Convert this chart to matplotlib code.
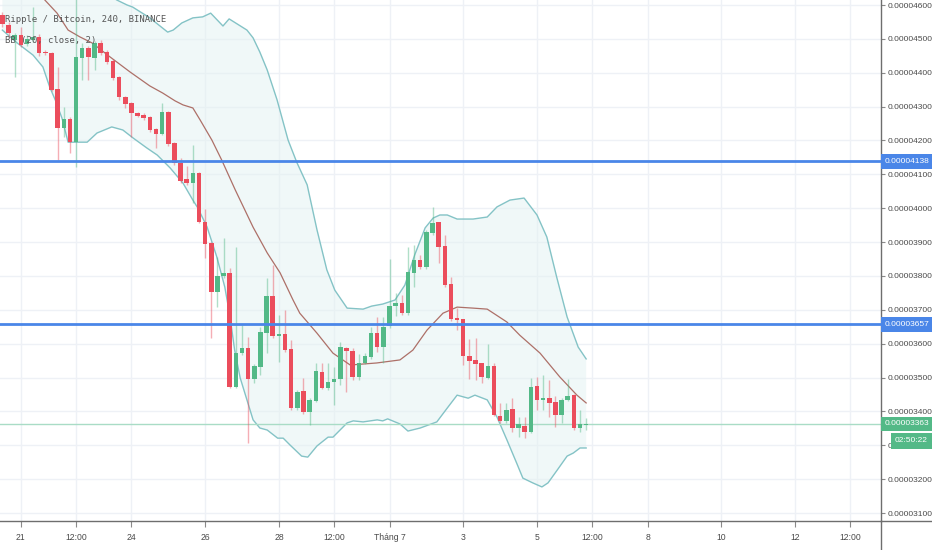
import numpy as np
import matplotlib as mpl
mpl.use('Agg')
import matplotlib.pyplot as plt
import matplotlib.transforms as mtransforms
from matplotlib.lines import Line2D

# XRP/BTC 4h candles (Binance), prices in satoshi (1e-8 BTC)
opens = [4570, 4541, 4497, 4511, 4485, 4497, 4505, 4461, 4458, 4352,
         4237, 4263, 4195, 4443, 4473, 4443, 4488, 4461, 4435, 4387,
         4328, 4310, 4281, 4275, 4269, 4234, 4219, 4284, 4193, 4133,
         4086, 4074, 4104, 3959, 3897, 3752, 3800, 3809, 3472, 3572,
         3587, 3496, 3531, 3631, 3741, 3623, 3629, 3584, 3410, 3460,
         3398, 3431, 3516, 3469, 3487, 3496, 3587, 3578, 3502, 3543,
         3561, 3632, 3590, 3652, 3711, 3720, 3690, 3809, 3847, 3826,
         3927, 3959, 3888, 3776, 3676, 3673, 3564, 3552, 3543, 3499,
         3534, 3386, 3372, 3407, 3351, 3357, 3339, 3475, 3434, 3440,
         3428, 3389, 3434, 3449, 3351, 3360]
highs = [4580, 4550, 4517, 4535, 4510, 4594, 4515, 4468, 4462, 4417,
         4299, 4268, 4620, 4488, 4480, 4495, 4497, 4466, 4440, 4390,
         4330, 4315, 4285, 4280, 4272, 4238, 4311, 4288, 4196, 4148,
         4125, 4186, 4108, 3999, 3900, 3856, 3912, 3823, 3885, 3655,
         3620, 3540, 3649, 3794, 3832, 3686, 3699, 3611, 3462, 3499,
         3440, 3543, 3543, 3543, 3531, 3605, 3590, 3587, 3569, 3573,
         3649, 3679, 3679, 3850, 3750, 3744, 3885, 3891, 3862, 3936,
         4004, 3960, 3921, 3797, 3706, 3673, 3614, 3617, 3543, 3599,
         3543, 3425, 3425, 3439, 3383, 3383, 3499, 3502, 3508, 3493,
         3446, 3440, 3496, 3452, 3404, 3381]
lows = [4535, 4505, 4387, 4475, 4478, 4490, 4450, 4452, 4345, 4142,
        4210, 4163, 4122, 4378, 4378, 4408, 4452, 4425, 4380, 4320,
        4296, 4210, 4268, 4260, 4225, 4178, 4215, 4185, 4128, 4075,
        4068, 4015, 3955, 3853, 3617, 3708, 3795, 3468, 3468, 3568,
        3307, 3484, 3507, 3572, 3618, 3546, 3575, 3405, 3405, 3392,
        3360, 3428, 3465, 3464, 3419, 3478, 3457, 3493, 3493, 3540,
        3555, 3575, 3543, 3645, 3682, 3685, 3685, 3767, 3820, 3820,
        3920, 3838, 3768, 3668, 3640, 3537, 3496, 3493, 3484, 3495,
        3385, 3365, 3367, 3339, 3324, 3321, 3335, 3404, 3404, 3383,
        3354, 3366, 3430, 3345, 3339, 3345]
closes = [4544, 4517, 4511, 4482, 4500, 4506, 4458, 4458, 4349, 4237,
          4263, 4196, 4446, 4473, 4446, 4488, 4458, 4432, 4385, 4328,
          4307, 4281, 4273, 4266, 4231, 4219, 4284, 4190, 4134, 4080,
          4074, 4104, 3959, 3894, 3752, 3800, 3809, 3472, 3572, 3587,
          3496, 3534, 3634, 3741, 3623, 3629, 3581, 3410, 3457, 3398,
          3434, 3519, 3469, 3487, 3496, 3590, 3578, 3502, 3543, 3564,
          3632, 3590, 3649, 3711, 3720, 3690, 3812, 3847, 3826, 3930,
          3956, 3885, 3773, 3673, 3670, 3564, 3549, 3540, 3501, 3534,
          3389, 3372, 3404, 3351, 3363, 3339, 3472, 3434, 3440, 3425,
          3389, 3434, 3446, 3351, 3363, 3363]

# first candle opens 20 Jun 12:00; x axis counts days of June
first_day = 20.5
candle_days = 1 / 6

# BB (20, close, 2) as (candle index, satoshi)
bb_upper_idx = [0, 8, 15, 18.6, 20.3, 21.2, 24.0, 26.9, 27.8, 29.2, 31.0, 32.6, 33.9,
                35.9, 36.9, 39.8, 40.8, 41.9, 43.1, 44.7, 46.5, 47.9, 49.6, 51.2,
                52.8, 54.1, 56.1, 58.7, 60.1, 61.9, 63.9, 65.5, 67.1, 68.8, 70.1,
                71.2, 72.4, 74.0, 76.6, 78.9, 80.5, 82.6, 84.9, 87.0, 88.6, 90.2,
                91.9, 93.7, 95]
bb_upper = [4760, 4730, 4660, 4615, 4600, 4594, 4562, 4520, 4526, 4547, 4562, 4565, 4576,
            4538, 4559, 4526, 4503, 4461, 4408, 4320, 4201, 4136, 4069, 3936,
            3818, 3758, 3705, 3702, 3711, 3717, 3729, 3773, 3862, 3942, 3971,
            3980, 3980, 3968, 3968, 3974, 4004, 4024, 4030, 3980, 3915, 3797,
            3679, 3590, 3555]
bb_lower_idx = [0, 2.4, 5.0, 6.6, 7.7, 8.6, 9.7, 10.7, 13.8, 15.4, 17.8, 19.6, 21.3,
                23.5, 25.2, 27.3, 29.4, 31.0, 31.8, 33.3, 34.9, 36.2, 37.0, 37.8,
                38.7, 39.8, 40.8, 41.9, 43.1, 44.8, 45.7, 46.8, 48.7, 49.7, 51.2,
                53.0, 53.8, 56.1, 57.1, 58.7, 61.0, 61.9, 62.7, 64.7, 66.0, 68.0,
                70.7, 72.4, 74.0, 75.8, 76.9, 78.9, 80.5, 82.1, 83.7, 84.7, 86.3,
                87.8, 88.8, 90.3, 91.9, 92.9, 94.0, 95]
bb_lower = [4526, 4488, 4452, 4417, 4358, 4320, 4266, 4195, 4195, 4222, 4240, 4231, 4207,
            4178, 4157, 4119, 4074, 4024, 4001, 3945, 3856, 3767, 3685, 3581,
            3499, 3434, 3375, 3351, 3345, 3321, 3321, 3301, 3268, 3265, 3298,
            3324, 3324, 3366, 3372, 3369, 3375, 3372, 3378, 3363, 3342, 3351,
            3369, 3410, 3448, 3439, 3448, 3434, 3383, 3316, 3247, 3203, 3189,
            3177, 3189, 3227, 3268, 3277, 3292, 3292]
bb_mid_idx = [6.1, 6.9, 8.9, 10.7, 12.6, 14.6, 17.5, 20.8, 24.0, 26.1, 28.1, 29.4,
              31.0, 32.2, 34.1, 35.7, 37.9, 40.8, 43.1, 45.2, 47.3, 48.4, 51.2,
              53.8, 56.6, 60.9, 64.7, 66.8, 69.1, 71.7, 74.0, 76.6, 78.9, 82.1,
              84.2, 87.5, 90.7, 93.5, 95]
bb_mid = [4644, 4615, 4576, 4526, 4506, 4488, 4447, 4402, 4361, 4340, 4317, 4305,
          4296, 4260, 4201, 4142, 4054, 3944, 3868, 3809, 3729, 3690, 3631,
          3572, 3537, 3543, 3552, 3581, 3640, 3690, 3708, 3705, 3702, 3664,
          3625, 3572, 3502, 3448, 3425]

levels = [4138, 3657]
last_price = 3363
countdown = '02:50:22'
title = 'Ripple / Bitcoin, 240, BINANCE'
study = 'BB (20, close, 2)'

xtick_days = [21, 22.5, 24, 26, 28, 29.5, 31, 33, 35, 36.5, 38, 40, 42, 43.5]
xtick_labels = ['21', '12:00', '24', '26', '28', '12:00', 'Tháng 7',
                '3', '5', '12:00', '8', '10', '12', '12:00']
ytick_vals = list(range(3100, 4700, 100))

plt.rcParams['font.family'] = ['Liberation Sans', 'DejaVu Sans']

fig = plt.figure(figsize=(9.32, 5.5), dpi=100)
ax = fig.add_axes([0, 29 / 550, 881 / 932, 521 / 550])


def to_day(idx):
    return first_day + np.asarray(idx, dtype=float) * candle_days


# bollinger bands
ux, lx = to_day(bb_upper_idx), to_day(bb_lower_idx)
ax.fill(np.concatenate([ux, lx[::-1]]),
        np.concatenate([bb_upper, bb_lower[::-1]]),
        color='#e3f2f2', alpha=0.5, lw=0, zorder=1)
ax.plot(ux, bb_upper, color='#84c3c6', lw=1, zorder=2)
ax.plot(lx, bb_lower, color='#84c3c6', lw=1, zorder=2)
ax.plot(to_day(bb_mid_idx), bb_mid, color='#ad7068', lw=0.9, zorder=2)

# candles
o = np.array(opens)
c = np.array(closes)
t = to_day(np.arange(len(o)))
cols = np.where(c >= o, '#53b987', '#eb4d5c')
ax.vlines(t, lows, highs, colors=cols, lw=1, alpha=0.45, zorder=3)
ax.bar(t, np.maximum(np.abs(c - o), 3), bottom=np.minimum(o, c),
       width=0.122, color=cols, lw=0, zorder=4)

# levels
for v in levels:
    ax.axhline(v, color='#4a86e8', lw=2, zorder=5)
ax.axhline(last_price, color='#a9dcc6', lw=1, zorder=2)

ax.set_xlim(20.436, 44.33)
ax.set_ylim(3076.4, 4614.8)
ax.set_xticks(xtick_days)
ax.set_xticklabels(xtick_labels)
ax.set_yticks(ytick_vals)
ax.set_yticklabels([f'{v / 1e8:.8f}' for v in ytick_vals])
ax.grid(color='#eef1f6', lw=1)
ax.set_axisbelow(True)
ax.yaxis.tick_right()
ax.tick_params(axis='y', direction='out', length=3, width=0.8, color='#8a8a8a',
               labelsize=6.0, labelcolor='#4a4a4a', pad=1.5)
ax.tick_params(axis='x', direction='out', length=4, width=0.8, color='#8a8a8a',
               labelsize=6.2, labelcolor='#4a4a4a', pad=5)
for s in ['top', 'left']:
    ax.spines[s].set_visible(False)
for s in ['right', 'bottom']:
    ax.spines[s].set_color('#6e6e6e')
    ax.spines[s].set_linewidth(1)
fig.add_artist(Line2D([881 / 932, 1], [29 / 550, 29 / 550], color='#6e6e6e', lw=1))
fig.add_artist(Line2D([881 / 932, 881 / 932], [0, 29 / 550], color='#6e6e6e', lw=1))

# price tags on the scale
trans = mtransforms.blended_transform_factory(ax.transAxes, ax.transData)
tag = dict(transform=trans, ha='left', va='center', color='white', fontsize=6.0,
           clip_on=False, zorder=6)
for v in levels:
    ax.text(1.004, v, f'{v / 1e8:.8f}', **tag,
            bbox=dict(boxstyle='square,pad=0.45', fc='#4a86e8', ec='none'))
ax.text(1.004, last_price, f'{last_price / 1e8:.8f}', **tag,
        bbox=dict(boxstyle='square,pad=0.45', fc='#53b987', ec='none'))
ax.annotate(countdown, xy=(1, last_price), xycoords=trans, xytext=(14, -17),
            textcoords='offset pixels', ha='left', va='center', color='white',
            fontsize=6.0, annotation_clip=False, zorder=6,
            bbox=dict(boxstyle='square,pad=0.5', fc='#53b987', ec='none'))

# legend texts
ax.text(5 / 881, 1 - 20 / 521, title, transform=ax.transAxes, ha='left', va='center',
        fontsize=6.4, color='#555555', family=['DejaVu Sans Mono'], zorder=7)
ax.text(5 / 881, 1 - 40 / 521, study, transform=ax.transAxes, ha='left', va='center',
        fontsize=6.4, color='#555555', family=['DejaVu Sans Mono'], zorder=7)

plt.savefig('out.png', dpi=100)
